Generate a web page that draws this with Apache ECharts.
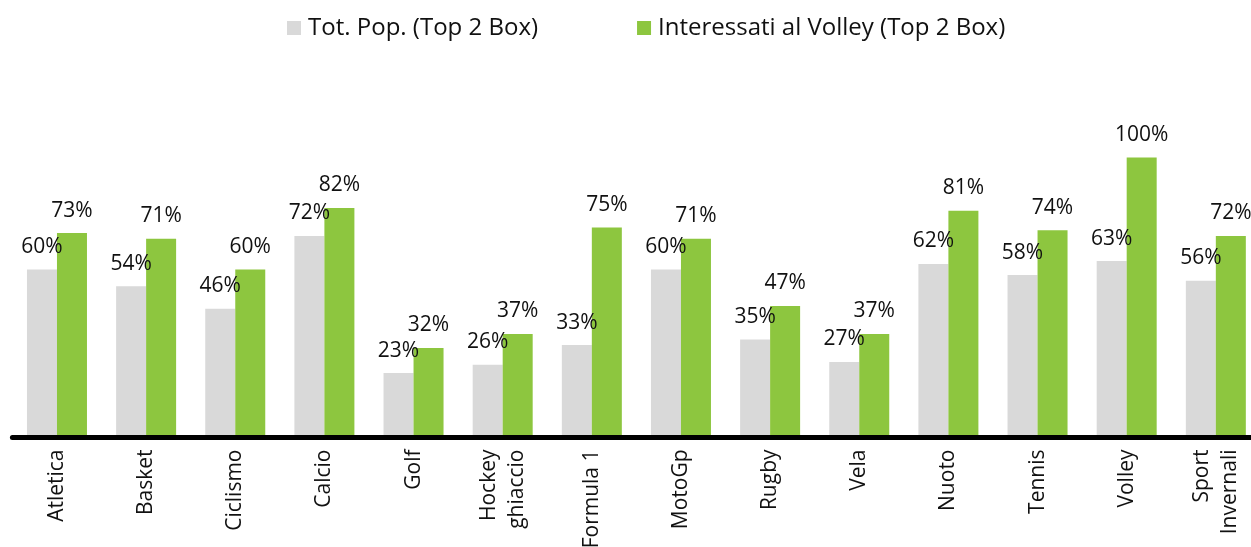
<!DOCTYPE html>
<html>
<head>
<meta charset="utf-8">
<script src="https://cdn.jsdelivr.net/npm/echarts@6/dist/echarts.min.js"></script>
<style>
html,body{margin:0;padding:0;background:#fff;}
#chart{width:1251px;height:547px;}
</style>
</head>
<body>
<div id="chart"></div>
<script>
const categories = ['Atletica','Basket','Ciclismo','Calcio','Golf','Hockey\nghiaccio','Formula 1','MotoGp','Rugby','Vela','Nuoto','Tennis','Volley','Sport\nInvernali'];
const totPop = [60,54,46,72,23,26,33,60,35,27,62,58,63,56];
const volley = [73,71,60,82,32,37,75,71,47,37,81,74,100,72];
const seriesNames = ['Tot. Pop. (Top 2 Box)','Interessati al Volley (Top 2 Box)'];

const FONT = '"Open Sans", "Noto Sans", sans-serif';
const chart = echarts.init(document.getElementById('chart'), null, {renderer:'canvas'});
const labelCfg = {
  show: true, position: 'top', distance: 12,
  formatter: '{c}%', color: '#111', fontFamily: FONT, fontSize: 21
};
chart.setOption({
  animation: false,
  backgroundColor: '#fff',
  legend: {
    left: 282, top: 11,
    itemWidth: 14, itemHeight: 14, itemGap: 99,
    icon: 'rect',
    textStyle: {fontFamily: FONT, fontSize: 24, color: '#111', padding: [0,0,0,2]},
    data: seriesNames
  },
  grid: {left: 12.4, width: 1248, top: 157.5, bottom: 109.5, containLabel: false, outerBoundsMode: 'none'},
  xAxis: {
    type: 'category', data: categories, z: 10,
    axisLine: {lineStyle: {color: '#000', width: 5}},
    axisTick: {show: false},
    axisLabel: {rotate: 90, interval: 0, margin: 12, color: '#111', fontFamily: FONT, fontSize: 21, lineHeight: 28}
  },
  yAxis: {type: 'value', min: 0, max: 100, show: false, splitLine: {show: false}},
  series: [
    {name: seriesNames[0], type: 'bar', data: totPop, barWidth: 30, barGap: '0%',
     itemStyle: {color: '#d9d9d9'}, label: labelCfg},
    {name: seriesNames[1], type: 'bar', data: volley, barWidth: 30, barGap: '0%',
     itemStyle: {color: '#8dc63f'}, label: labelCfg}
  ]
});
</script>
</body>
</html>
